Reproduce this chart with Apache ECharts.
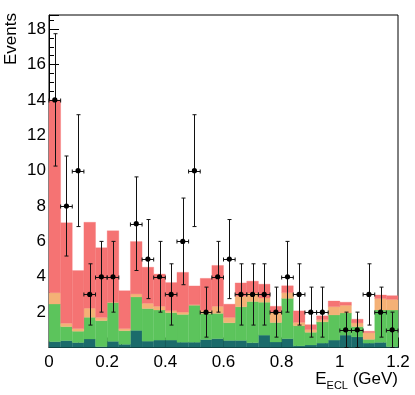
<!DOCTYPE html>
<html>
<head>
<meta charset="utf-8">
<script src="https://cdn.jsdelivr.net/npm/echarts@6/dist/echarts.min.js"></script>
<style>
  html, body { margin: 0; padding: 0; background: #fff; }
  #chart { width: 415px; height: 395px; }
</style>
</head>
<body>
<div id="chart"></div>
<script>
// histogram binning: 30 bins of 0.04 GeV from 0 to 1.2
const binStart = 0;
const binWidth = 0.04;

// stacked components, bottom to top (events per bin)
const tealVals = [0.33, 0.39, 0.28, 0.48, 0.05, 0.35, 0.18, 0.97, 0.36, 0.42, 0.42, 0.30, 0.30, 0.45, 0.50,
                  0.40, 0.40, 0.27, 0.70, 0.31, 0.50, 0.09, 0.14, 0.25, 0.42, 0.70, 0.60, 0.25, 0.29, 0.05];
const greenVals = [2.13, 0.79, 0.64, 1.23, 1.47, 2.19, 0.77, 1.89, 1.84, 1.70, 1.55, 1.57, 2.09, 1.47, 1.43,
                   1.00, 1.90, 2.33, 1.86, 1.10, 2.28, 1.14, 0.72, 1.20, 1.42, 1.25, 0.58, 0.21, 1.83, 2.07];
const orangeVals = [0.64, 0.19, 0.15, 0.51, 0.17, 0.02, 0.12, 0.17, 0.30, 0.21, 0.11, 0.13, 0.03, 0.18, 0.40,
                    0.30, 0.60, 0.48, 0.24, 0.59, 0.32, 0.19, 0.15, 0.13, 0.47, 0.44, 0.21, 0.38, 0.65, 0.60];
const redVals = [10.90, 5.68, 3.28, 4.86, 3.95, 4.04, 2.14, 2.96, 2.04, 1.82, 1.59, 2.25, 1.06, 1.81, 2.31,
                 0.75, 0.75, 0.67, 0.78, 0.33, 0.39, 0.65, 0.28, 0.21, 0.32, 0.17, 0.21, 0.08, 0.20, 0.21];

// observed data counts per bin
const dataCounts = [14, 8, 10, 3, 4, 4, 0, 7, 5, 4, 3, 6, 10, 2, 4,
                    5, 3, 3, 3, 2, 4, 3, 2, 2, 0, 1, 1, 3, 2, 1];

const xTicks = [0, 0.2, 0.4, 0.6, 0.8, 1, 1.2];
const yMax = 18.8;

const layers = [
  { name: 'teal', vals: tealVals, color: '#1b6b6b' },
  { name: 'green', vals: greenVals, color: '#5cc45c' },
  { name: 'orange', vals: orangeVals, color: '#f4b176' },
  { name: 'red', vals: redVals, color: '#f57373' }
];

const FONT = 'Liberation Sans';

// build [lo, hi, base, top] for each layer
const base = tealVals.map(() => 0);
const histSeries = layers.map(layer => {
  const data = layer.vals.map((v, i) => {
    const lo = binStart + i * binWidth;
    const item = [lo, lo + binWidth, base[i], base[i] + v];
    base[i] += v;
    return item;
  });
  return {
    type: 'custom',
    name: layer.name,
    data: data,
    encode: { x: [0, 1], y: [2, 3] },
    silent: true,
    renderItem: function (params, api) {
      const p0 = api.coord([api.value(0), api.value(3)]);
      const p1 = api.coord([api.value(1), api.value(2)]);
      return {
        type: 'rect',
        shape: { x: p0[0], y: p0[1], width: p1[0] - p0[0], height: p1[1] - p0[1] },
        style: { fill: layer.color, stroke: layer.color, lineWidth: 0.3 }
      };
    }
  };
});

// data points with sqrt(n) errors, empty bins not drawn
const pointData = [];
dataCounts.forEach((n, i) => {
  if (n <= 0) return;
  const xc = binStart + (i + 0.5) * binWidth;
  const e = Math.sqrt(n);
  pointData.push([xc, n, n - e, n + e]);
});

const pointSeries = {
  type: 'custom',
  data: pointData,
  encode: { x: 0, y: 1 },
  silent: true,
  z: 10,
  renderItem: function (params, api) {
    const xc = api.value(0);
    const c = api.coord([xc, api.value(1)]);
    const lo = api.coord([xc, api.value(2)]);
    const hi = api.coord([xc, api.value(3)]);
    const l = api.coord([xc - binWidth / 2, api.value(1)]);
    const r = api.coord([xc + binWidth / 2, api.value(1)]);
    const x = Math.round(c[0]) + 0.5;
    const y = Math.round(c[1]) + 0.5;
    const st = { stroke: '#111', lineWidth: 1 };
    const cap = 2;
    return {
      type: 'group',
      children: [
        { type: 'line', shape: { x1: x, y1: lo[1], x2: x, y2: hi[1] }, style: st },
        { type: 'line', shape: { x1: x - cap, y1: lo[1], x2: x + cap, y2: lo[1] }, style: st },
        { type: 'line', shape: { x1: x - cap, y1: hi[1], x2: x + cap, y2: hi[1] }, style: st },
        { type: 'line', shape: { x1: l[0], y1: y, x2: r[0], y2: y }, style: st },
        { type: 'line', shape: { x1: l[0], y1: y - cap, x2: l[0], y2: y + cap }, style: st },
        { type: 'line', shape: { x1: r[0], y1: y - cap, x2: r[0], y2: y + cap }, style: st },
        { type: 'circle', shape: { cx: c[0], cy: c[1], r: 2.6 }, style: { fill: '#000' } }
      ]
    };
  }
};

const chart = echarts.init(document.getElementById('chart'), null, { renderer: 'canvas' });

chart.setOption({
  animation: false,
  backgroundColor: '#fff',
  grid: {
    left: 49, right: 17, top: 15, bottom: 47.5,
    show: true, borderColor: '#000', borderWidth: 1, backgroundColor: 'transparent'
  },
  xAxis: {
    type: 'value',
    min: xTicks[0],
    max: xTicks[xTicks.length - 1],
    interval: 0.2,
    axisLine: { show: true, lineStyle: { color: '#000', width: 1 } },
    axisTick: { show: true, inside: true, length: 10, lineStyle: { color: '#000' } },
    minorTick: { show: true, splitNumber: 4, length: 5, lineStyle: { color: '#000' } },
    splitLine: { show: false },
    axisLabel: {
      color: '#000', fontFamily: FONT, fontSize: 17, margin: 6,
      formatter: v => String(+v.toFixed(2))
    }
  },
  yAxis: {
    type: 'value',
    min: 0,
    max: yMax,
    interval: 2,
    axisLine: { show: true, lineStyle: { color: '#000', width: 1 } },
    axisTick: { show: true, inside: true, length: 10, lineStyle: { color: '#000' } },
    minorTick: { show: true, splitNumber: 4, length: 5, lineStyle: { color: '#000' } },
    splitLine: { show: false },
    axisLabel: {
      color: '#000', fontFamily: FONT, fontSize: 17, margin: 3,
      showMinLabel: false, showMaxLabel: false
    }
  },
  graphic: [
    {
      type: 'text',
      x: 3, y: 13,
      rotation: Math.PI / 2,
      originX: 0, originY: 0,
      style: {
        text: 'Events', font: '17px "Liberation Sans"', fill: '#000',
        align: 'right', verticalAlign: 'top'
      }
    },
    {
      type: 'text',
      right: 17, top: 371,
      style: {
        text: '{a|E}{s|ECL}{a| (GeV)}',
        fill: '#000',
        rich: {
          a: { fontFamily: FONT, fontSize: 17, lineHeight: 20, verticalAlign: 'top' },
          s: { fontFamily: FONT, fontSize: 11, lineHeight: 20, verticalAlign: 'bottom', padding: [9, 0, 0, 0] }
        }
      }
    }
  ],
  series: histSeries.concat([pointSeries])
});
</script>
</body>
</html>
